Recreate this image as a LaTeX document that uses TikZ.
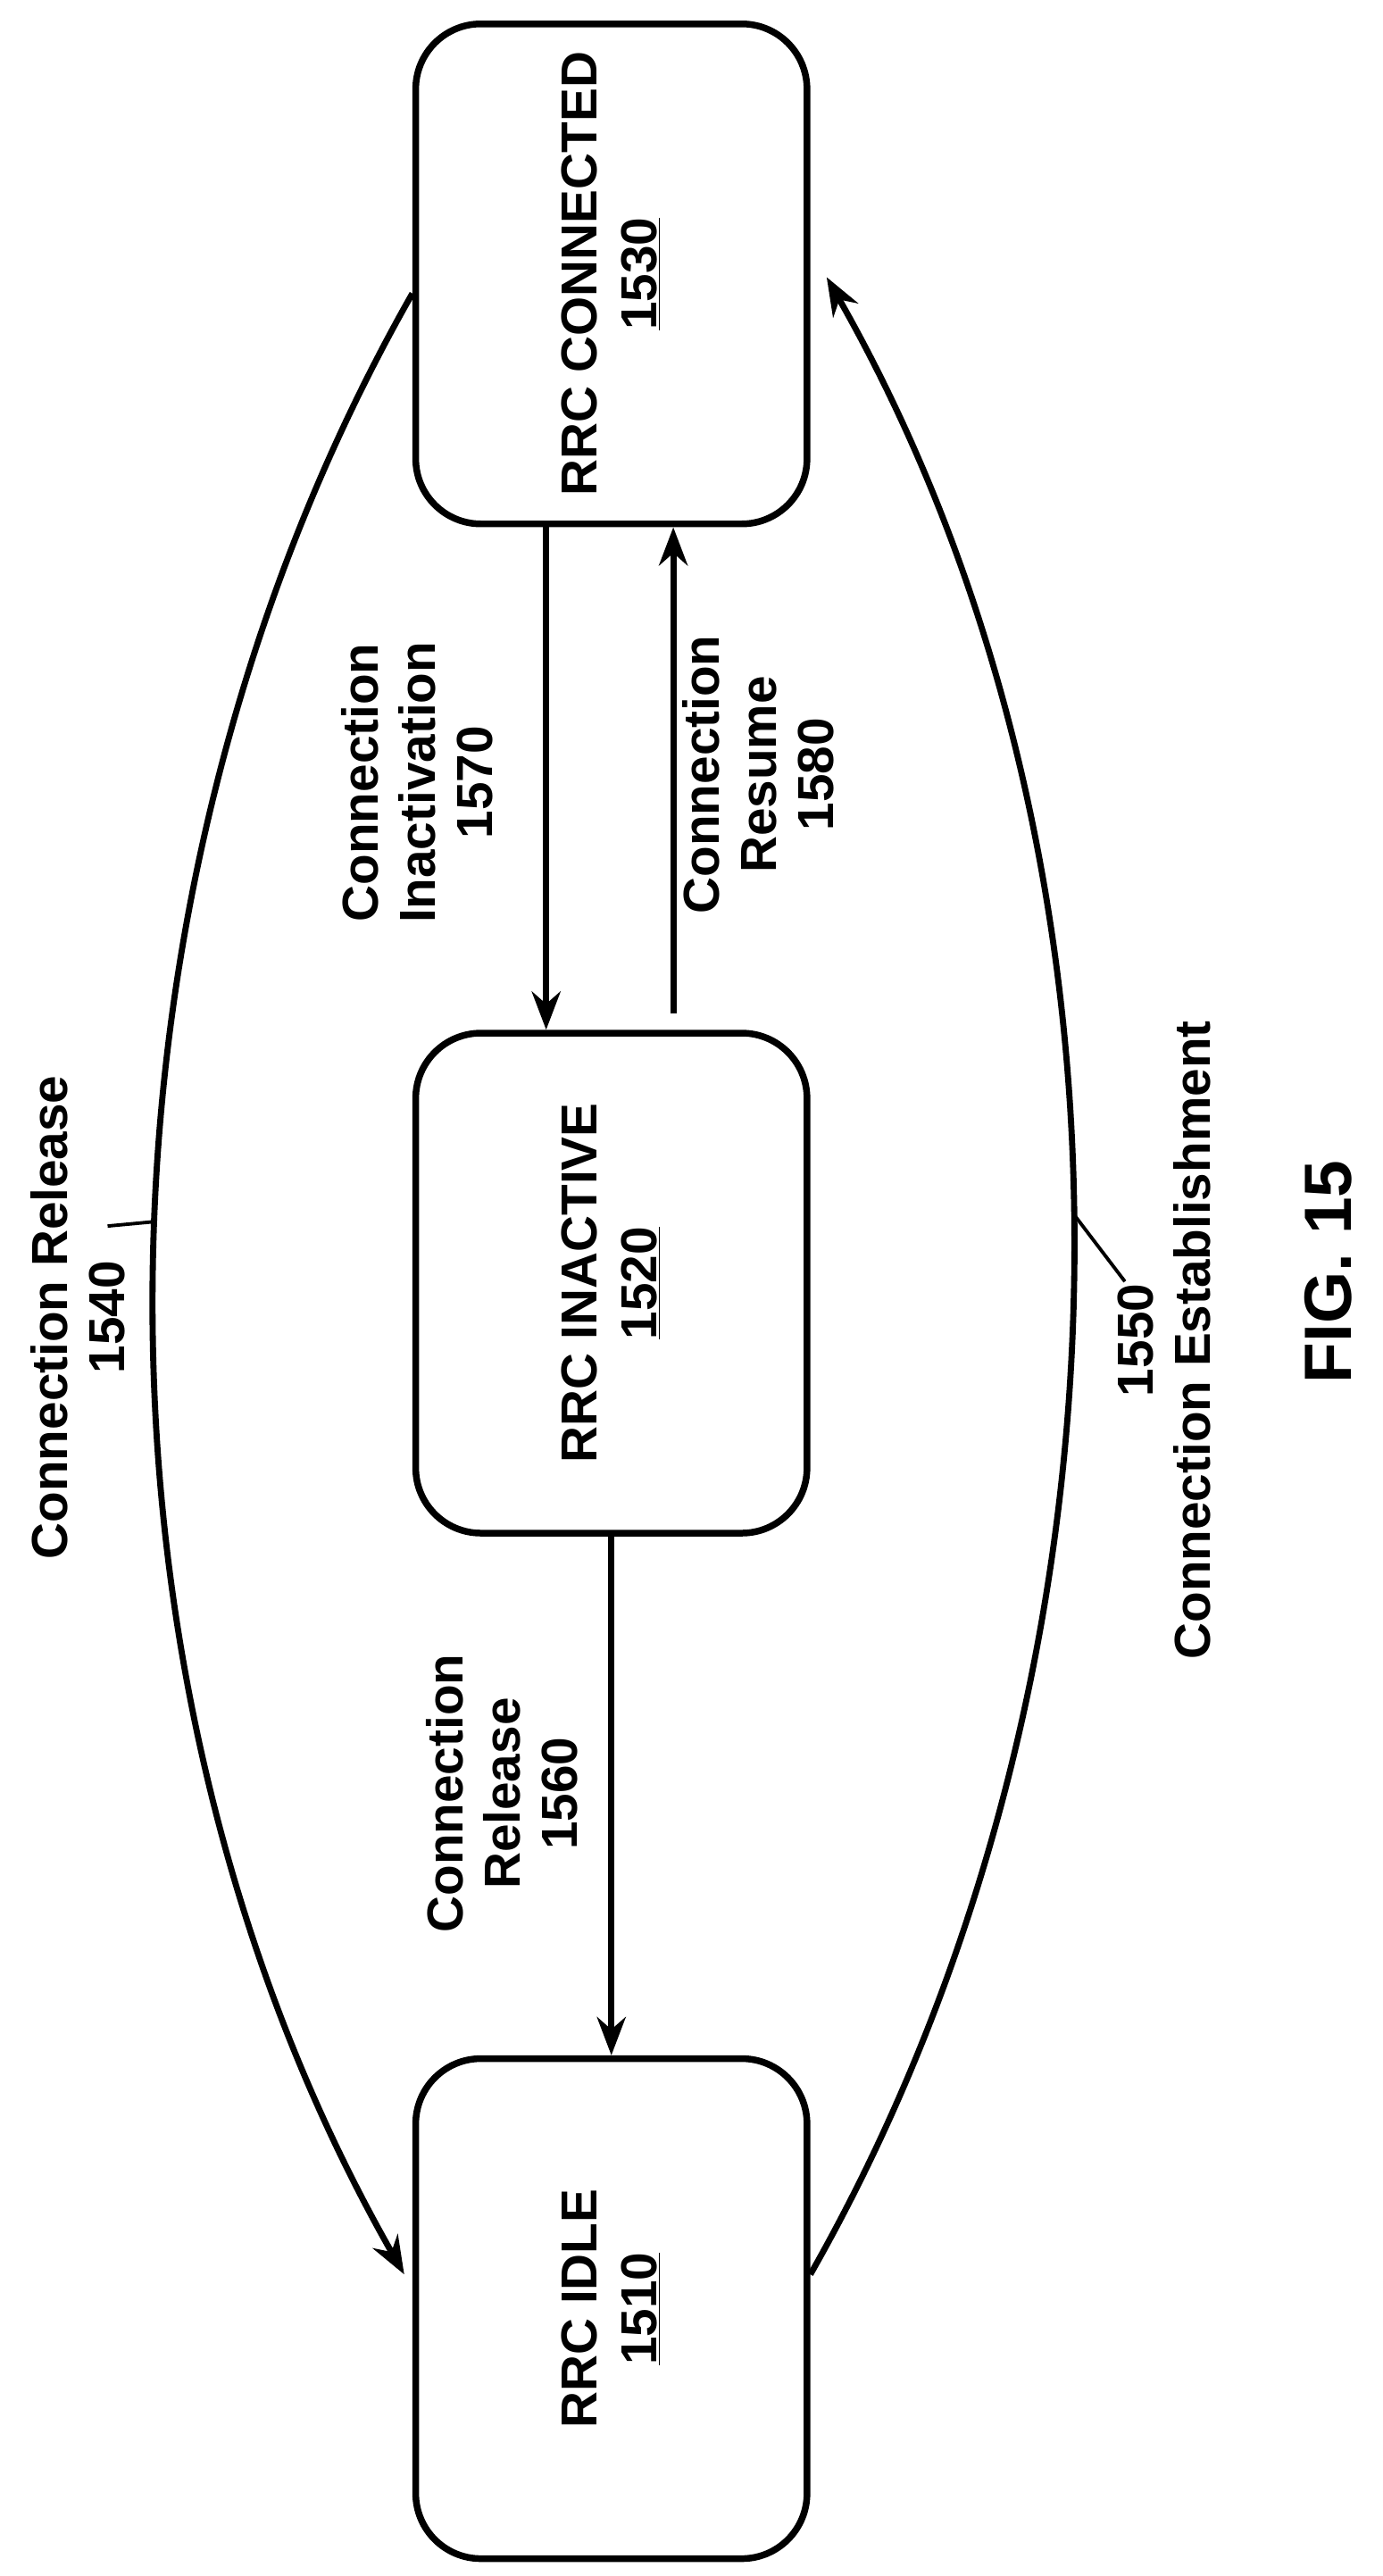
\documentclass[tikz,border=0pt]{standalone}
\usepackage{fontspec}
\setmainfont{Liberation Sans}
\usetikzlibrary{calc,arrows.meta}
\tikzset{
	state/.style={draw, line width=3.5pt, rounded corners=1.2cm, rotate=90, align=center,
		minimum width=9.2cm, minimum height=7.2cm, font=\bfseries\fontsize{26.5}{31}\selectfont},
	lbl/.style={rotate=90, align=center, font=\bfseries\fontsize{26.5}{30}\selectfont},
	arr/.style={line width=3.2pt, -{Stealth[length=20pt,width=15pt]}}
}
\begin{document}
\begin{tikzpicture}[x=0.03cm, y=0.03cm]
	\useasboundingbox (0,0) rectangle (848,-1580);
	% States
	\node[state] (con) at (375,-168) {RRC CONNECTED\\\underline{1530}};
	\node[state] (ina) at (375,-787) {RRC INACTIVE\\\underline{1520}};
	\node[state] (idle) at (375,-1416) {RRC IDLE\\\underline{1510}};
	
	% Arrows
	\draw[arr] ($(con.west)+(-40,0)$) -- ($(ina.east)+(-40,0)$);
	\draw[arr] ($(ina.east)+(38,10)$) -- ($(con.west)+(38,0)$);
	\draw[arr] (ina.west) -- (idle.east);
	\coordinate (relA) at ($(con.north)+(0,-12)$);
	\coordinate (relB) at ($(idle.north)+(-5,21)$);
	\coordinate (estA) at ($(idle.south)+(0,21)$);
	\coordinate (estB) at ($(con.south)+(10,-2)$);
	\draw[arr] (relA) .. controls (45,-545) and (40,-1030) .. coordinate[pos=0.47] (relpt) (relB);
	\draw[arr] (estA) .. controls (705,-1030) and (715,-535) .. coordinate[pos=0.53] (estpt) (estB);
	
	% Labels
	\node[lbl] (inalbl) at (256,-480) {Connection\\Inactivation\\1570};
	\node[lbl] (reslbl) at (465,-475) {Connection\\Resume\\1580};
	\node[lbl] (rellbl) at (308,-1100) {Connection\\Release\\1560};
	\node[lbl] (lbl1540) at (48,-808) {Connection Release\\1540};
	\node[lbl] (lbl1550) at (714,-822) {1550\\Connection Establishment};
	\node[lbl, font=\bfseries\fontsize{35}{40}\selectfont] (fig) at (815,-780) {FIG. 15};
	
	% Leaders
	\coordinate (tip1540) at (66,-752);
	\coordinate (tip1550) at (690,-786);
	\draw[line width=1.8pt] (tip1540) -- (relpt);
	\draw[line width=1.8pt] (tip1550) -- (estpt);
\end{tikzpicture}
\end{document}
